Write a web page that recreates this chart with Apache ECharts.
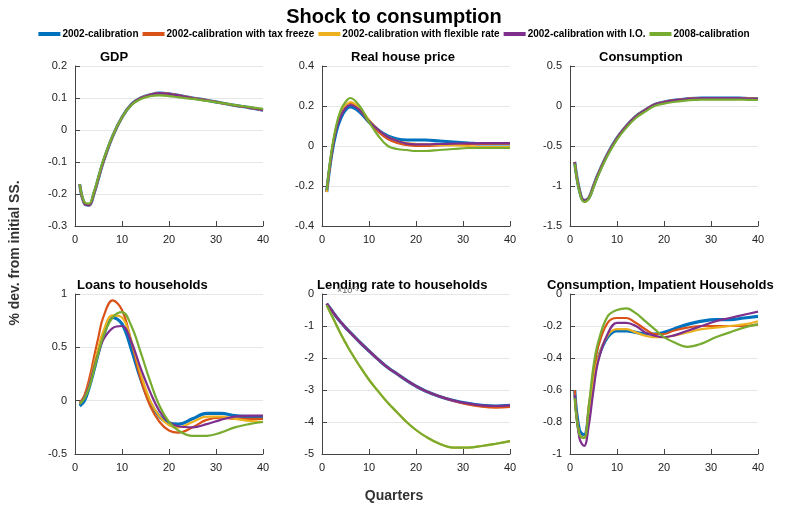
<!DOCTYPE html>
<html><head><meta charset="utf-8">
<script src="https://cdn.jsdelivr.net/npm/echarts@6/dist/echarts.min.js"></script>
<style>body{margin:0}#c{width:788px;height:506px}</style></head>
<body><div id="c"></div>
<script>
QUARTERS = [1,2,3,4,5,6,8,10,12,14,16,18,20,22,25,28,31,34,37,40];
NAMES = ['2002-calibration','2002-calibration with tax freeze','2002-calibration with flexible rate','2002-calibration with I.O.','2008-calibration'];
COLORS = ['#0072BD','#D95319','#EDB120','#7E2F8E','#77AC30'];

GDP_BASE = [-0.17,-0.23,-0.235,-0.2,-0.15,-0.1,-0.02,0.04,0.08,0.1,0.11,0.115,0.113,0.108,0.1,0.093,0.085,0.077,0.07,0.062];
GDP_GREEN = [-0.17,-0.225,-0.23,-0.195,-0.145,-0.095,-0.018,0.04,0.078,0.097,0.106,0.108,0.106,0.102,0.097,0.091,0.085,0.078,0.072,0.066];

HP_BLUE = [-0.23,-0.05,0.07,0.14,0.18,0.195,0.17,0.12,0.08,0.05,0.035,0.03,0.03,0.03,0.025,0.02,0.015,0.01,0.01,0.01];
HP_RED = [-0.23,-0.04,0.09,0.16,0.2,0.215,0.18,0.12,0.07,0.035,0.015,0.005,0,0,0.003,0.005,0.008,0.01,0.012,0.012];
HP_ORANGE = [-0.23,-0.04,0.09,0.16,0.2,0.22,0.19,0.13,0.08,0.045,0.025,0.015,0.01,0.008,0.005,0.003,0,-0.005,-0.005,-0.005];
HP_PURPLE = [-0.22,-0.05,0.08,0.15,0.19,0.205,0.18,0.125,0.08,0.045,0.025,0.012,0.008,0.008,0.01,0.012,0.013,0.014,0.015,0.015];
HP_GREEN = [-0.22,-0.03,0.1,0.18,0.22,0.24,0.2,0.12,0.05,0.0,-0.015,-0.02,-0.025,-0.025,-0.02,-0.015,-0.01,-0.01,-0.01,-0.01];

CONS_BASE = [-0.7,-1.05,-1.18,-1.15,-1.0,-0.85,-0.6,-0.4,-0.25,-0.13,-0.05,0.02,0.05,0.07,0.09,0.1,0.1,0.1,0.095,0.09];
CONS_GREEN = [-0.72,-1.07,-1.2,-1.16,-1.02,-0.87,-0.62,-0.42,-0.27,-0.15,-0.07,0.0,0.03,0.05,0.07,0.08,0.08,0.08,0.078,0.075];

LOAN_BLUE = [-0.05,0,0.12,0.28,0.45,0.6,0.78,0.72,0.48,0.2,-0.02,-0.15,-0.21,-0.22,-0.17,-0.12,-0.12,-0.14,-0.15,-0.15];
LOAN_RED = [-0.02,0.05,0.2,0.4,0.6,0.78,0.94,0.85,0.55,0.2,-0.05,-0.2,-0.28,-0.3,-0.25,-0.18,-0.16,-0.17,-0.17,-0.17];
LOAN_ORANGE = [-0.03,0.03,0.15,0.33,0.5,0.65,0.8,0.78,0.56,0.25,0,-0.15,-0.23,-0.25,-0.2,-0.15,-0.15,-0.17,-0.19,-0.2];
LOAN_PURPLE = [-0.03,0.03,0.14,0.3,0.45,0.57,0.68,0.7,0.55,0.3,0.08,-0.1,-0.2,-0.24,-0.25,-0.22,-0.18,-0.15,-0.14,-0.14];
LOAN_GREEN = [-0.03,0.02,0.12,0.28,0.45,0.6,0.78,0.83,0.7,0.45,0.18,-0.05,-0.2,-0.28,-0.33,-0.33,-0.3,-0.25,-0.22,-0.2];

RATE_BASE = [-0.3,-0.5,-0.7,-0.88,-1.05,-1.2,-1.5,-1.78,-2.05,-2.3,-2.5,-2.7,-2.88,-3.03,-3.2,-3.33,-3.42,-3.48,-3.5,-3.48];
RATE_RED = [-0.3,-0.5,-0.7,-0.88,-1.05,-1.2,-1.5,-1.78,-2.05,-2.3,-2.5,-2.7,-2.88,-3.03,-3.2,-3.34,-3.45,-3.52,-3.55,-3.53];
RATE_LOW = [-0.35,-0.65,-0.95,-1.25,-1.52,-1.78,-2.25,-2.68,-3.05,-3.4,-3.7,-4.0,-4.25,-4.45,-4.68,-4.8,-4.8,-4.75,-4.68,-4.6];

CI_BLUE = [-0.6,-0.85,-0.88,-0.75,-0.55,-0.4,-0.27,-0.23,-0.23,-0.24,-0.25,-0.25,-0.24,-0.22,-0.19,-0.17,-0.16,-0.16,-0.15,-0.14];
CI_RED = [-0.6,-0.88,-0.9,-0.7,-0.5,-0.33,-0.18,-0.15,-0.15,-0.18,-0.22,-0.25,-0.25,-0.23,-0.21,-0.2,-0.2,-0.2,-0.2,-0.19];
CI_ORANGE = [-0.63,-0.88,-0.9,-0.75,-0.55,-0.4,-0.26,-0.22,-0.22,-0.24,-0.26,-0.27,-0.27,-0.26,-0.24,-0.22,-0.21,-0.2,-0.19,-0.17];
CI_PURPLE = [-0.63,-0.9,-0.95,-0.82,-0.6,-0.42,-0.25,-0.18,-0.18,-0.2,-0.24,-0.26,-0.27,-0.26,-0.23,-0.2,-0.17,-0.15,-0.13,-0.11];
CI_GREEN = [-0.65,-0.88,-0.9,-0.7,-0.45,-0.3,-0.14,-0.1,-0.09,-0.12,-0.17,-0.22,-0.27,-0.3,-0.33,-0.31,-0.27,-0.24,-0.21,-0.19];

var panels = [
	{title:'GDP', tx:95, min:-0.3, max:0.2, step:0.1, lines:[GDP_BASE,GDP_BASE,GDP_BASE,GDP_BASE,GDP_GREEN]},
	{title:'Real house price', tx:346, min:-0.4, max:0.4, step:0.2, lines:[HP_BLUE,HP_RED,HP_ORANGE,HP_PURPLE,HP_GREEN]},
	{title:'Consumption', tx:594, min:-1.5, max:0.5, step:0.5, lines:[CONS_BASE,CONS_BASE,CONS_BASE,CONS_BASE,CONS_GREEN]},
	{title:'Loans to households', tx:72, min:-0.5, max:1, step:0.5, lines:[LOAN_BLUE,LOAN_RED,LOAN_ORANGE,LOAN_PURPLE,LOAN_GREEN]},
	{title:'Lending rate to households', tx:312, min:-5, max:0, step:1, lines:[RATE_BASE,RATE_RED,RATE_LOW,RATE_BASE,RATE_LOW]},
	{title:'Consumption, Impatient Households', tx:542, min:-1, max:0, step:0.2, lines:[CI_BLUE,CI_RED,CI_ORANGE,CI_PURPLE,CI_GREEN]}
];
var lefts = [75, 322, 570], tops = [66, 294], W = 188, H = 160;

var grid = [], xAxis = [], yAxis = [], series = [], title = [{text:'Shock to consumption', left:'center', top:2, textStyle:{fontSize:20, fontWeight:'bold', color:'#000'}}];
var fontFam = 'Liberation Sans, Arial, sans-serif';
panels.forEach(function(p, i) {
	var gx = lefts[i % 3], gy = tops[Math.floor(i / 3)];
	grid.push({left:gx, top:gy, width:W, height:H});
	title.push({text:p.title, left:p.tx, top:gy - 20, textStyle:{fontSize:13, fontWeight:'bold', color:'#000', fontFamily:fontFam}});
	xAxis.push({type:'value', gridIndex:i, min:0, max:40, interval:10,
		axisLine:{onZero:false, lineStyle:{color:'#444'}}, axisTick:{inside:true, lineStyle:{color:'#444'}},
		axisLabel:{color:'#222', fontSize:11, fontFamily:fontFam}, splitLine:{show:false}});
	yAxis.push({type:'value', gridIndex:i, min:p.min, max:p.max, interval:p.step,
		axisLine:{show:true, lineStyle:{color:'#444'}}, axisTick:{show:true, inside:true, lineStyle:{color:'#444'}},
		axisLabel:{color:'#222', fontSize:11, fontFamily:fontFam, formatter:function(v){return String(Math.round(v*10)/10);}},
		splitLine:{show:true, lineStyle:{color:'#e6e6e6'}}});
	p.lines.forEach(function(vals, k) {
		series.push({type:'line', name:NAMES[k], xAxisIndex:i, yAxisIndex:i, smooth:0.4, showSymbol:false,
			lineStyle:{width:k === 0 ? 3.2 : 2.2, color:COLORS[k]}, itemStyle:{color:COLORS[k]}, z:k === 0 ? 1 : 2 + k,
			data:QUARTERS.map(function(q, j){return [q, vals[j]];})});
	});
});
title.push({text:'×10⁻³', left:332, top:281, textStyle:{fontSize:9, color:'#666', fontWeight:'normal'}});
title.push({text:'Quarters', left:'center', top:484, textStyle:{fontSize:14, fontWeight:'bold', color:'#333', fontFamily:fontFam}});

var chart = echarts.init(document.getElementById('c'));
chart.setOption({
	animation:false,
	title:title,
	legend:{top:24, left:'center', itemGap:4, itemWidth:22, itemHeight:4, icon:'rect', data:NAMES,
		textStyle:{fontSize:10, fontWeight:'bold', color:'#000', fontFamily:fontFam, padding:[0,0,0,-3]}},
	graphic:[{type:'text', left:8, top:'center', rotation:Math.PI/2, style:{text:'% dev. from initial SS.', font:'bold 14px Liberation Sans, Arial', fill:'#333'}}],
	grid:grid, xAxis:xAxis, yAxis:yAxis, series:series
});
</script></body></html>
